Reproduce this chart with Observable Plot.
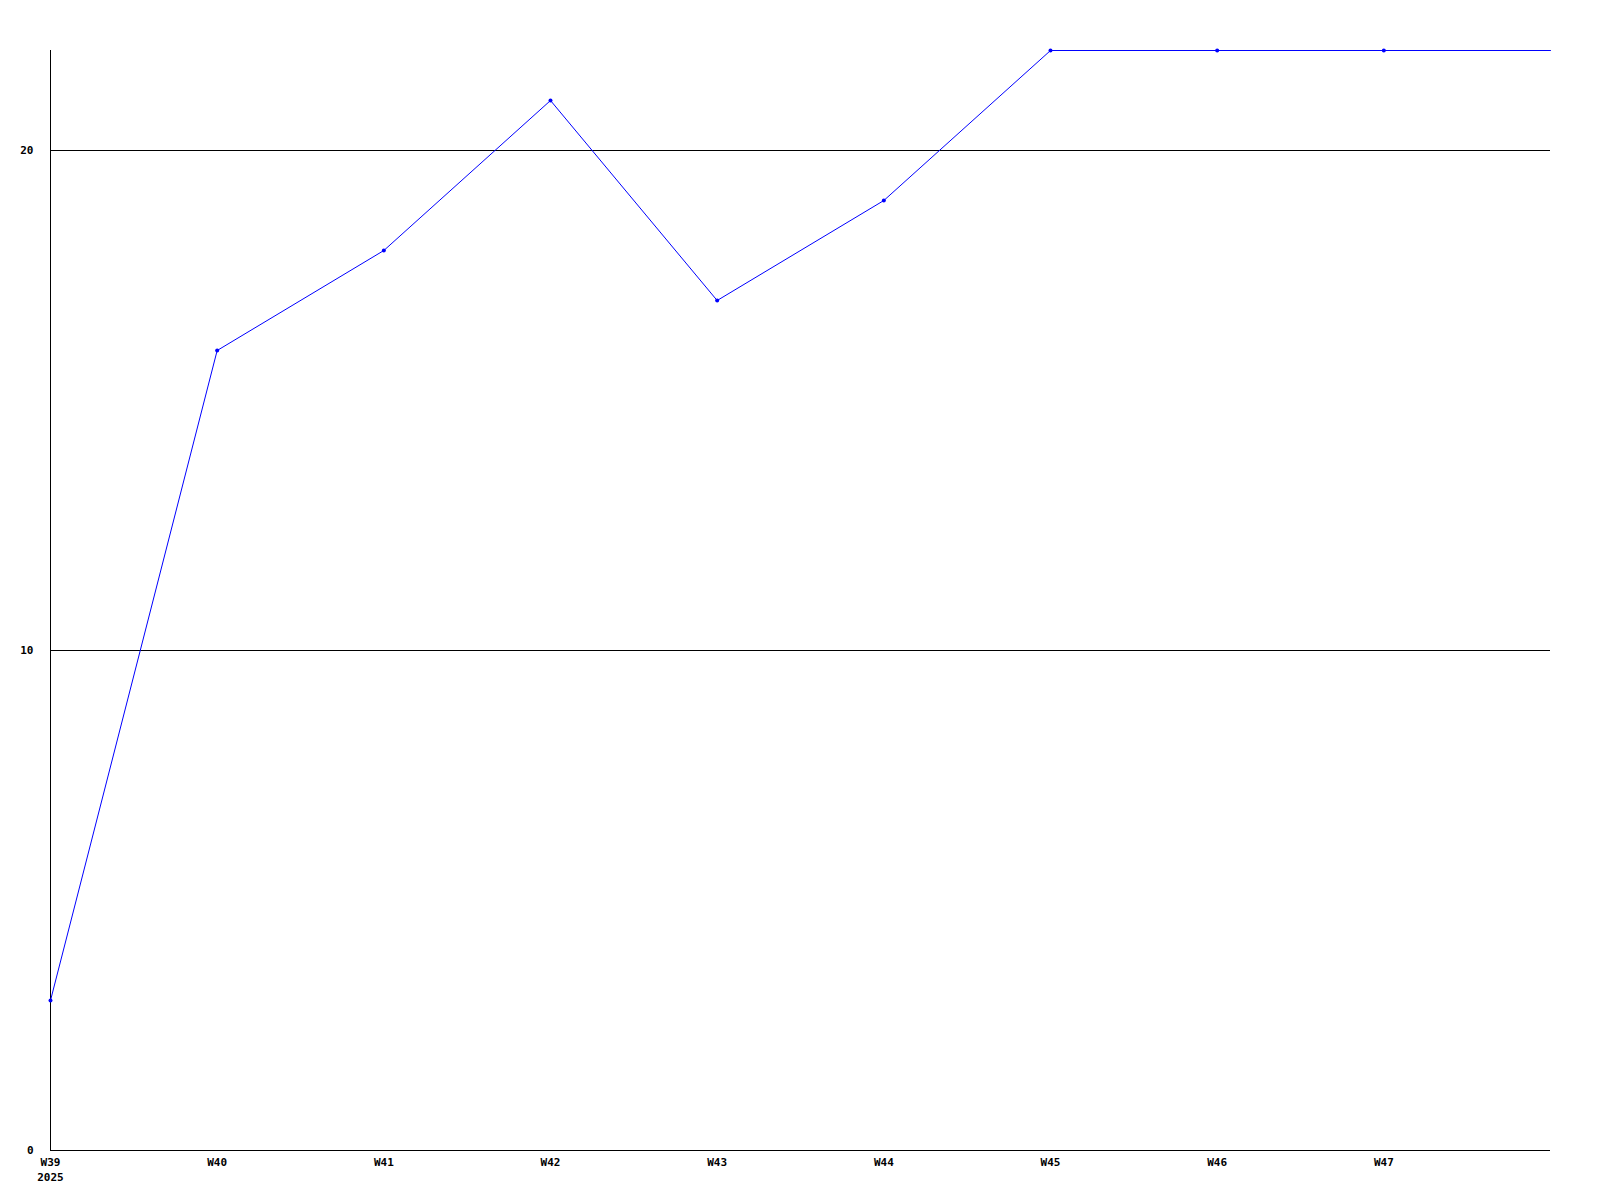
<!DOCTYPE html>
<html>
<head>
<meta charset="utf-8">
<script src="https://cdn.jsdelivr.net/npm/d3@7"></script>
<script src="https://cdn.jsdelivr.net/npm/@observablehq/plot@0.6"></script>
<style>
  html, body { margin: 0; padding: 0; background: #fff; }
  svg text { font-family: "DejaVu Sans Mono", "Liberation Mono", monospace; font-weight: bold; font-size: 11px; }
</style>
</head>
<body>
<div id="chart"></div>
<script>
const weeks = ["W39", "W40", "W41", "W42", "W43", "W44", "W45", "W46", "W47"];
const values = [3, 16, 18, 21, 17, 19, 22, 22, 22];
// the line carries on to the right edge of the plot (start of W48) at this value
const tailValue = 22;
const yTicks = [0, 10, 20];
const yearLabel = "2025";

const data = weeks.map((w, i) => ({i, week: w, value: values[i]}));
const lineData = [...data, {i: weeks.length, week: "", value: tailValue}];

const chart = Plot.plot({
  width: 1600,
  height: 1200,
  marginLeft: 50,
  marginRight: 50,
  marginTop: 50,
  marginBottom: 50,
  style: {background: "#fff", color: "#000", overflow: "visible"},
  x: {domain: [0, weeks.length], axis: null},
  y: {domain: [0, 22], axis: null},
  marks: [
    Plot.ruleY(yTicks.filter(d => d > 0), {stroke: "#000", strokeWidth: 1, strokeOpacity: 1}),
    Plot.ruleY([0], {stroke: "#000", strokeWidth: 1}),
    Plot.ruleX([0], {stroke: "#000", strokeWidth: 1}),
    Plot.text(yTicks, {x: 0, y: d => d, text: d => String(d), textAnchor: "end", dx: -17, fill: "#000"}),
    Plot.text(data, {x: "i", y: 0, text: "week", dy: 12, fill: "#000"}),
    Plot.text([yearLabel], {x: 0, y: 0, text: d => d, dy: 27, fill: "#000"}),
    Plot.line(lineData, {x: "i", y: "value", stroke: "#0000ff", strokeWidth: 1}),
    Plot.dot(data, {x: "i", y: "value", r: 2, fill: "#0000ff", stroke: "none"})
  ]
});
document.getElementById("chart").appendChild(chart);
</script>
</body>
</html>
